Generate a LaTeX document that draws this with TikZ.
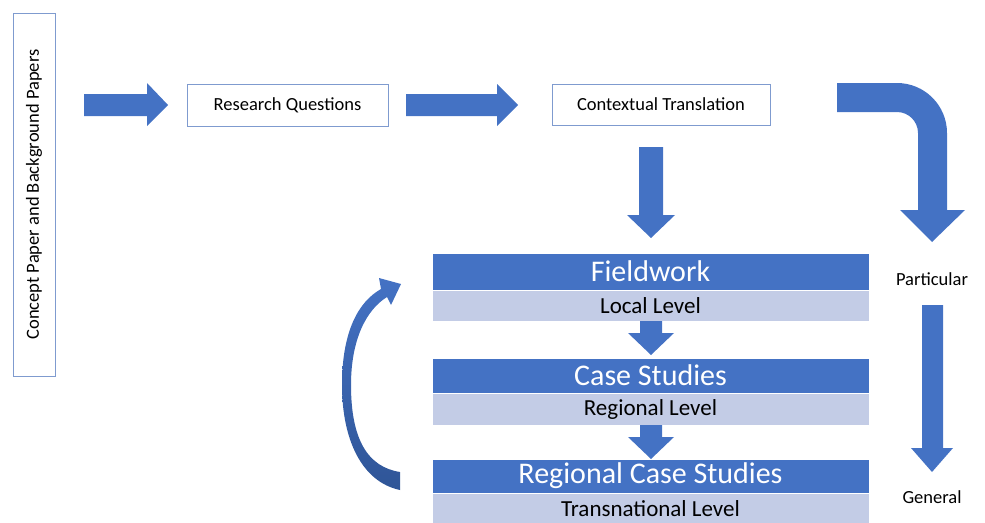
\documentclass[tikz,border=0pt]{standalone}
\usepackage{fontspec}
\setmainfont{Carlito}
\definecolor{ablue}{HTML}{4472C4}
\definecolor{adark}{HTML}{2F5597}
\definecolor{alight}{HTML}{C3CCE6}
\definecolor{aborder}{HTML}{7F9BCF}
\tikzset{
  plainbox/.style={draw=aborder, line width=0.8pt, fill=white, inner sep=0pt,
    font=\fontsize{18.5}{20}\selectfont, text=black},
  hdr/.style={fill=ablue, draw=white, line width=0.4pt, inner sep=0pt, minimum width=437pt,
    font=\fontsize{30}{32}\selectfont, text=white},
  lvl/.style={fill=alight, draw=white, line width=0.4pt, inner sep=0pt, minimum width=437pt,
    font=\fontsize{23}{25}\selectfont, text=black},
  lbl/.style={inner sep=0pt, font=\fontsize{18.5}{20}\selectfont, text=black},
  barrow/.style={fill=ablue, draw=none}
}
\begin{document}
\begin{tikzpicture}[x=1pt,y=-1pt]
\useasboundingbox (0,0) rectangle (985,522);
% boxes
\node[plainbox, rotate=90, minimum width=363pt, minimum height=42pt] (concept) at (34,194.5) {Concept Paper and Background Papers};
\node[plainbox, minimum width=201pt, minimum height=42pt] (rq) at (287.5,105) {Research Questions};
\node[plainbox, minimum width=218pt, minimum height=41pt] (ct) at (661,104.5) {Contextual Translation};
% block arrows, top row
\fill[barrow] (84,94) -- (147,94) -- (147,83) -- (168,105) -- (147,126) -- (147,116) -- (84,116) -- cycle;
\fill[barrow] (406,94) -- (497,94) -- (497,84) -- (518,105) -- (497,126) -- (497,116) -- (406,116) -- cycle;
\fill[barrow] (639,147) -- (663,147) -- (663,215) -- (675,215) -- (651,238) -- (627,215) -- (639,215) -- cycle;
% bent arrow
\fill[barrow] (837,83) -- (897,83) arc(90:0:50pt) -- (947,210) -- (965,210) -- (932,242) -- (900,210) -- (918,210) -- (918,133) arc(0:90:21pt) -- (837,112) -- cycle;
% stacked levels
\node[hdr, minimum height=37pt] (fw) at (650.5,271.5) {Fieldwork};
\node[lvl, minimum height=31pt] (ll) at (650.5,305.5) {Local Level};
\node[hdr, minimum height=35pt] (cs) at (650.5,375.5) {Case Studies};
\node[lvl, minimum height=32pt] (rl) at (650.5,409) {Regional Level};
\node[hdr, minimum height=34pt] (rcs) at (650.5,476) {Regional Case Studies};
\node[lvl, minimum height=32pt] (tl) at (650.5,509) {Transnational Level};
% small down arrows
\fill[barrow] (640,321) -- (662,321) -- (662,333) -- (674,333) -- (651,355) -- (628,333) -- (640,333) -- cycle;
\fill[barrow] (640,425) -- (662,425) -- (662,437) -- (674,437) -- (651,459) -- (628,437) -- (640,437) -- cycle;
% curved feedback arrow
\shade[top color=ablue, bottom color=adark]
  (400,490) .. controls (362,482) and (342,440) .. (342,385)
  .. controls (342,332) and (358,302) .. (381,289)
  -- (379,278) -- (401,284) -- (391,305) -- (387,297)
  .. controls (366,310) and (351,340) .. (351,385)
  .. controls (351,440) and (368,467) .. (400,472) -- cycle;
% particular -> general
\node[lbl] (part) at (932,279) {Particular};
\node[lbl] (gen) at (932,497) {General};
\fill[barrow] (922,305) -- (943,305) -- (943,448) -- (953,448) -- (932,472) -- (911,448) -- (922,448) -- cycle;
\end{tikzpicture}
\end{document}
